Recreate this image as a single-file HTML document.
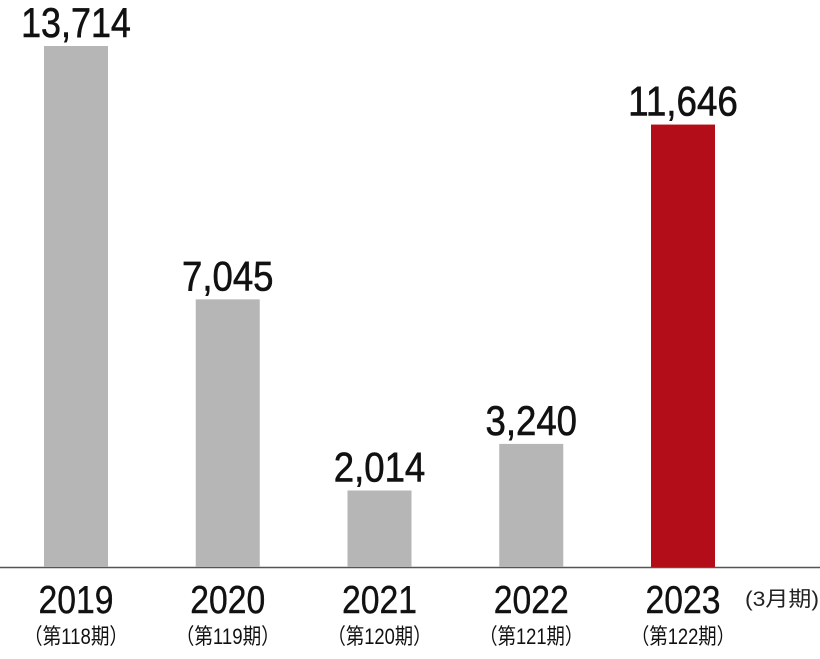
<!DOCTYPE html>
<html><head><meta charset="utf-8"><style>
html,body{margin:0;padding:0;background:#fff;}
svg{display:block;font-family:"Liberation Sans Narrow","Liberation Sans","Noto Sans CJK JP",sans-serif;}
</style></head><body>
<svg id="chart" width="820" height="659" viewBox="0 0 820 659" xmlns="http://www.w3.org/2000/svg">
<line x1="0" y1="567.5" x2="820" y2="567.5" stroke="#555" stroke-width="1.5"/>
<text x="745" y="606" font-size="21" fill="#222" textLength="74" lengthAdjust="spacingAndGlyphs" font-family="Liberation Sans, Noto Sans CJK JP, sans-serif">(3月期)</text>
<g id="bars"></g>
</svg>
<script>
const years = ["2019","2020","2021","2022","2023"];
const periods = ["（第118期）","（第119期）","（第120期）","（第121期）","（第122期）"];
const values = [13714, 7045, 2014, 3240, 11646];
const valueLabels = ["13,714","7,045","2,014","3,240","11,646"];
const highlight = [false,false,false,false,true];

const baseY = 567, maxV = 13714, plotH = 521;
function yScale(v){ return baseY - v / maxV * plotH; }
function xCenter(i){ return 76 + i * 151.75; }
const barW = 64;
const NS = "http://www.w3.org/2000/svg";
const g = document.getElementById("bars");
function mk(tag, attrs){ const e = document.createElementNS(NS, tag); for (const k in attrs) e.setAttribute(k, attrs[k]); return e; }
values.forEach((v, i) => {
  const cx = xCenter(i), top = yScale(v);
  const r = mk("rect", {x: cx - barW/2, y: top, width: barW, height: baseY - top, fill: highlight[i] ? "#b20d18" : "#b5b6b5"});
  
  
  g.appendChild(r);
  const lbl = valueLabels[i];
  const t = mk("text", {x: cx, y: top - 9, "font-size": 42, "text-anchor": "middle", fill: "#111", stroke: "#111", "stroke-width": 0.6, textLength: lbl.length * 18.3, lengthAdjust: "spacingAndGlyphs"});
  t.textContent = lbl;
  
  
  g.appendChild(t);
  const yt = mk("text", {x: cx, y: 613, "font-size": 39, "text-anchor": "middle", fill: "#111", stroke: "#111", "stroke-width": 0.4, textLength: 75, lengthAdjust: "spacingAndGlyphs"});
  yt.textContent = years[i];
  
  
  g.appendChild(yt);
  const pt = mk("text", {x: cx, y: 644, "font-size": 22, "text-anchor": "middle", fill: "#111", "font-family": "Liberation Sans, Noto Sans CJK JP, sans-serif", textLength: 104, lengthAdjust: "spacingAndGlyphs"});
  pt.textContent = periods[i];
  
  
  g.appendChild(pt);
});
</script>
</body></html>
